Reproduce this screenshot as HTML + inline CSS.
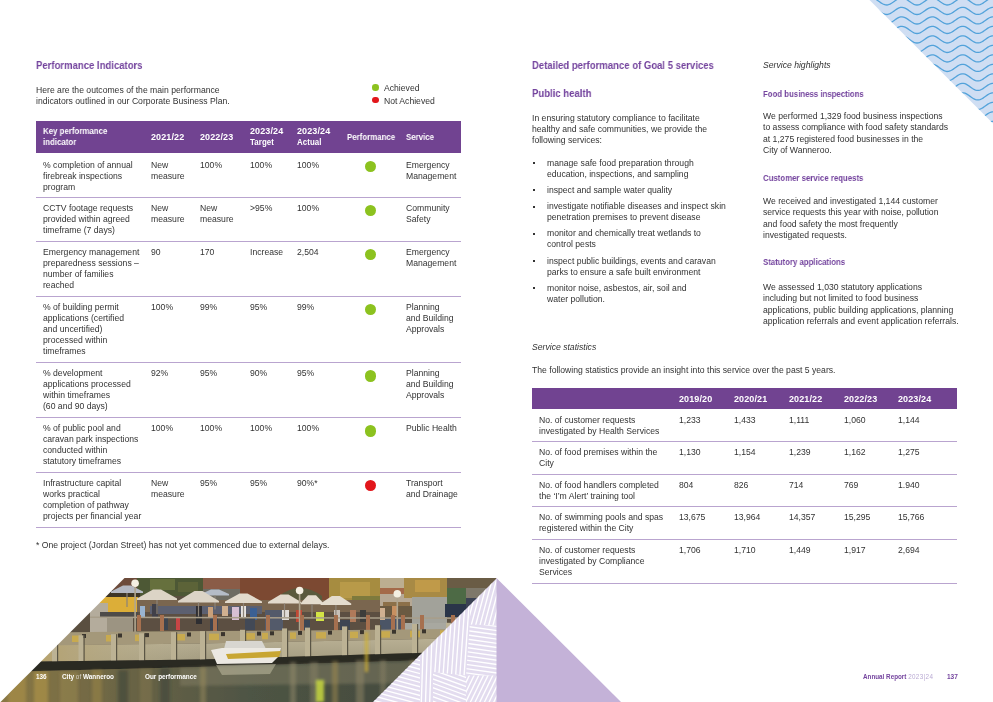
<!DOCTYPE html>
<html><head><meta charset="utf-8">
<style>
html,body{margin:0;padding:0;}
body{width:993px;height:702px;position:relative;overflow:hidden;background:#fff;font-family:"Liberation Sans", sans-serif;}
.t{position:absolute;white-space:nowrap;will-change:transform;}
.t sup{font-size:60%;vertical-align:top;line-height:0;position:relative;top:1px}
.dot{position:absolute;border-radius:50%;}
.box{position:absolute;}
.abs{position:absolute;}
</style></head><body>
<svg class="abs" style="left:0;top:0" width="993" height="702" viewBox="0 0 993 702"><defs><clipPath id="wc"><polygon points="869.5,0 993,0 993,123.5"/></clipPath></defs><g clip-path="url(#wc)"><rect x="860" y="0" width="140" height="130" fill="#cfdef3"/><polyline points="860.0,-5.55 861.5,-6.45 863.0,-7.51 864.5,-8.62 866.0,-9.68 867.5,-10.59 869.0,-11.27 870.5,-11.64 872.0,-11.67 873.5,-11.37 875.0,-10.75 876.5,-9.88 878.0,-8.84 879.5,-7.73 881.0,-6.65 882.5,-5.72 884.0,-5.01 885.5,-4.59 887.0,-4.51 888.5,-4.77 890.0,-5.35 891.5,-6.19 893.0,-7.22 894.5,-8.32 896.0,-9.41 897.5,-10.37 899.0,-11.11 900.5,-11.57 902.0,-11.70 903.5,-11.48 905.0,-10.94 906.5,-10.13 908.0,-9.13 909.5,-8.03 911.0,-6.93 912.5,-5.95 914.0,-5.17 915.5,-4.67 917.0,-4.50 918.5,-4.67 920.0,-5.17 921.5,-5.95 923.0,-6.93 924.5,-8.03 926.0,-9.13 927.5,-10.13 929.0,-10.94 930.5,-11.48 932.0,-11.70 933.5,-11.57 935.0,-11.11 936.5,-10.37 938.0,-9.41 939.5,-8.32 941.0,-7.22 942.5,-6.19 944.0,-5.35 945.5,-4.77 947.0,-4.51 948.5,-4.59 950.0,-5.01 951.5,-5.72 953.0,-6.65 954.5,-7.73 956.0,-8.84 957.5,-9.88 959.0,-10.75 960.5,-11.37 962.0,-11.67 963.5,-11.64 965.0,-11.27 966.5,-10.59 968.0,-9.68 969.5,-8.62 971.0,-7.51 972.5,-6.45 974.0,-5.55 975.5,-4.90 977.0,-4.55 978.5,-4.54 980.0,-4.87 981.5,-5.50 983.0,-6.39 984.5,-7.43 986.0,-8.55 987.5,-9.61 989.0,-10.54 990.5,-11.23 992.0,-11.62 993.5,-11.68 995.0,-11.40 996.5,-10.80 998.0,-9.94 999.5,-8.91" fill="none" stroke="#52a2da" stroke-width="1.3"/><polyline points="860.0,3.95 861.5,3.05 863.0,1.99 864.5,0.88 866.0,-0.18 867.5,-1.09 869.0,-1.77 870.5,-2.14 872.0,-2.17 873.5,-1.87 875.0,-1.25 876.5,-0.38 878.0,0.66 879.5,1.77 881.0,2.85 882.5,3.78 884.0,4.49 885.5,4.91 887.0,4.99 888.5,4.73 890.0,4.15 891.5,3.31 893.0,2.28 894.5,1.18 896.0,0.09 897.5,-0.87 899.0,-1.61 900.5,-2.07 902.0,-2.20 903.5,-1.98 905.0,-1.44 906.5,-0.63 908.0,0.37 909.5,1.47 911.0,2.57 912.5,3.55 914.0,4.33 915.5,4.83 917.0,5.00 918.5,4.83 920.0,4.33 921.5,3.55 923.0,2.57 924.5,1.47 926.0,0.37 927.5,-0.63 929.0,-1.44 930.5,-1.98 932.0,-2.20 933.5,-2.07 935.0,-1.61 936.5,-0.87 938.0,0.09 939.5,1.18 941.0,2.28 942.5,3.31 944.0,4.15 945.5,4.73 947.0,4.99 948.5,4.91 950.0,4.49 951.5,3.78 953.0,2.85 954.5,1.77 956.0,0.66 957.5,-0.38 959.0,-1.25 960.5,-1.87 962.0,-2.17 963.5,-2.14 965.0,-1.77 966.5,-1.09 968.0,-0.18 969.5,0.88 971.0,1.99 972.5,3.05 974.0,3.95 975.5,4.60 977.0,4.95 978.5,4.96 980.0,4.63 981.5,4.00 983.0,3.11 984.5,2.07 986.0,0.95 987.5,-0.11 989.0,-1.04 990.5,-1.73 992.0,-2.12 993.5,-2.18 995.0,-1.90 996.5,-1.30 998.0,-0.44 999.5,0.59" fill="none" stroke="#52a2da" stroke-width="1.3"/><polyline points="860.0,13.45 861.5,12.55 863.0,11.49 864.5,10.38 866.0,9.32 867.5,8.41 869.0,7.73 870.5,7.36 872.0,7.33 873.5,7.63 875.0,8.25 876.5,9.12 878.0,10.16 879.5,11.27 881.0,12.35 882.5,13.28 884.0,13.99 885.5,14.41 887.0,14.49 888.5,14.23 890.0,13.65 891.5,12.81 893.0,11.78 894.5,10.68 896.0,9.59 897.5,8.63 899.0,7.89 900.5,7.43 902.0,7.30 903.5,7.52 905.0,8.06 906.5,8.87 908.0,9.87 909.5,10.97 911.0,12.07 912.5,13.05 914.0,13.83 915.5,14.33 917.0,14.50 918.5,14.33 920.0,13.83 921.5,13.05 923.0,12.07 924.5,10.97 926.0,9.87 927.5,8.87 929.0,8.06 930.5,7.52 932.0,7.30 933.5,7.43 935.0,7.89 936.5,8.63 938.0,9.59 939.5,10.68 941.0,11.78 942.5,12.81 944.0,13.65 945.5,14.23 947.0,14.49 948.5,14.41 950.0,13.99 951.5,13.28 953.0,12.35 954.5,11.27 956.0,10.16 957.5,9.12 959.0,8.25 960.5,7.63 962.0,7.33 963.5,7.36 965.0,7.73 966.5,8.41 968.0,9.32 969.5,10.38 971.0,11.49 972.5,12.55 974.0,13.45 975.5,14.10 977.0,14.45 978.5,14.46 980.0,14.13 981.5,13.50 983.0,12.61 984.5,11.57 986.0,10.45 987.5,9.39 989.0,8.46 990.5,7.77 992.0,7.38 993.5,7.32 995.0,7.60 996.5,8.20 998.0,9.06 999.5,10.09" fill="none" stroke="#52a2da" stroke-width="1.3"/><polyline points="860.0,22.95 861.5,22.05 863.0,20.99 864.5,19.88 866.0,18.82 867.5,17.91 869.0,17.23 870.5,16.86 872.0,16.83 873.5,17.13 875.0,17.75 876.5,18.62 878.0,19.66 879.5,20.77 881.0,21.85 882.5,22.78 884.0,23.49 885.5,23.91 887.0,23.99 888.5,23.73 890.0,23.15 891.5,22.31 893.0,21.28 894.5,20.18 896.0,19.09 897.5,18.13 899.0,17.39 900.5,16.93 902.0,16.80 903.5,17.02 905.0,17.56 906.5,18.37 908.0,19.37 909.5,20.47 911.0,21.57 912.5,22.55 914.0,23.33 915.5,23.83 917.0,24.00 918.5,23.83 920.0,23.33 921.5,22.55 923.0,21.57 924.5,20.47 926.0,19.37 927.5,18.37 929.0,17.56 930.5,17.02 932.0,16.80 933.5,16.93 935.0,17.39 936.5,18.13 938.0,19.09 939.5,20.18 941.0,21.28 942.5,22.31 944.0,23.15 945.5,23.73 947.0,23.99 948.5,23.91 950.0,23.49 951.5,22.78 953.0,21.85 954.5,20.77 956.0,19.66 957.5,18.62 959.0,17.75 960.5,17.13 962.0,16.83 963.5,16.86 965.0,17.23 966.5,17.91 968.0,18.82 969.5,19.88 971.0,20.99 972.5,22.05 974.0,22.95 975.5,23.60 977.0,23.95 978.5,23.96 980.0,23.63 981.5,23.00 983.0,22.11 984.5,21.07 986.0,19.95 987.5,18.89 989.0,17.96 990.5,17.27 992.0,16.88 993.5,16.82 995.0,17.10 996.5,17.70 998.0,18.56 999.5,19.59" fill="none" stroke="#52a2da" stroke-width="1.3"/><polyline points="860.0,32.45 861.5,31.55 863.0,30.49 864.5,29.38 866.0,28.32 867.5,27.41 869.0,26.73 870.5,26.36 872.0,26.33 873.5,26.63 875.0,27.25 876.5,28.12 878.0,29.16 879.5,30.27 881.0,31.35 882.5,32.28 884.0,32.99 885.5,33.41 887.0,33.49 888.5,33.23 890.0,32.65 891.5,31.81 893.0,30.78 894.5,29.68 896.0,28.59 897.5,27.63 899.0,26.89 900.5,26.43 902.0,26.30 903.5,26.52 905.0,27.06 906.5,27.87 908.0,28.87 909.5,29.97 911.0,31.07 912.5,32.05 914.0,32.83 915.5,33.33 917.0,33.50 918.5,33.33 920.0,32.83 921.5,32.05 923.0,31.07 924.5,29.97 926.0,28.87 927.5,27.87 929.0,27.06 930.5,26.52 932.0,26.30 933.5,26.43 935.0,26.89 936.5,27.63 938.0,28.59 939.5,29.68 941.0,30.78 942.5,31.81 944.0,32.65 945.5,33.23 947.0,33.49 948.5,33.41 950.0,32.99 951.5,32.28 953.0,31.35 954.5,30.27 956.0,29.16 957.5,28.12 959.0,27.25 960.5,26.63 962.0,26.33 963.5,26.36 965.0,26.73 966.5,27.41 968.0,28.32 969.5,29.38 971.0,30.49 972.5,31.55 974.0,32.45 975.5,33.10 977.0,33.45 978.5,33.46 980.0,33.13 981.5,32.50 983.0,31.61 984.5,30.57 986.0,29.45 987.5,28.39 989.0,27.46 990.5,26.77 992.0,26.38 993.5,26.32 995.0,26.60 996.5,27.20 998.0,28.06 999.5,29.09" fill="none" stroke="#52a2da" stroke-width="1.3"/><polyline points="860.0,41.95 861.5,41.05 863.0,39.99 864.5,38.88 866.0,37.82 867.5,36.91 869.0,36.23 870.5,35.86 872.0,35.83 873.5,36.13 875.0,36.75 876.5,37.62 878.0,38.66 879.5,39.77 881.0,40.85 882.5,41.78 884.0,42.49 885.5,42.91 887.0,42.99 888.5,42.73 890.0,42.15 891.5,41.31 893.0,40.28 894.5,39.18 896.0,38.09 897.5,37.13 899.0,36.39 900.5,35.93 902.0,35.80 903.5,36.02 905.0,36.56 906.5,37.37 908.0,38.37 909.5,39.47 911.0,40.57 912.5,41.55 914.0,42.33 915.5,42.83 917.0,43.00 918.5,42.83 920.0,42.33 921.5,41.55 923.0,40.57 924.5,39.47 926.0,38.37 927.5,37.37 929.0,36.56 930.5,36.02 932.0,35.80 933.5,35.93 935.0,36.39 936.5,37.13 938.0,38.09 939.5,39.18 941.0,40.28 942.5,41.31 944.0,42.15 945.5,42.73 947.0,42.99 948.5,42.91 950.0,42.49 951.5,41.78 953.0,40.85 954.5,39.77 956.0,38.66 957.5,37.62 959.0,36.75 960.5,36.13 962.0,35.83 963.5,35.86 965.0,36.23 966.5,36.91 968.0,37.82 969.5,38.88 971.0,39.99 972.5,41.05 974.0,41.95 975.5,42.60 977.0,42.95 978.5,42.96 980.0,42.63 981.5,42.00 983.0,41.11 984.5,40.07 986.0,38.95 987.5,37.89 989.0,36.96 990.5,36.27 992.0,35.88 993.5,35.82 995.0,36.10 996.5,36.70 998.0,37.56 999.5,38.59" fill="none" stroke="#52a2da" stroke-width="1.3"/><polyline points="860.0,51.45 861.5,50.55 863.0,49.49 864.5,48.38 866.0,47.32 867.5,46.41 869.0,45.73 870.5,45.36 872.0,45.33 873.5,45.63 875.0,46.25 876.5,47.12 878.0,48.16 879.5,49.27 881.0,50.35 882.5,51.28 884.0,51.99 885.5,52.41 887.0,52.49 888.5,52.23 890.0,51.65 891.5,50.81 893.0,49.78 894.5,48.68 896.0,47.59 897.5,46.63 899.0,45.89 900.5,45.43 902.0,45.30 903.5,45.52 905.0,46.06 906.5,46.87 908.0,47.87 909.5,48.97 911.0,50.07 912.5,51.05 914.0,51.83 915.5,52.33 917.0,52.50 918.5,52.33 920.0,51.83 921.5,51.05 923.0,50.07 924.5,48.97 926.0,47.87 927.5,46.87 929.0,46.06 930.5,45.52 932.0,45.30 933.5,45.43 935.0,45.89 936.5,46.63 938.0,47.59 939.5,48.68 941.0,49.78 942.5,50.81 944.0,51.65 945.5,52.23 947.0,52.49 948.5,52.41 950.0,51.99 951.5,51.28 953.0,50.35 954.5,49.27 956.0,48.16 957.5,47.12 959.0,46.25 960.5,45.63 962.0,45.33 963.5,45.36 965.0,45.73 966.5,46.41 968.0,47.32 969.5,48.38 971.0,49.49 972.5,50.55 974.0,51.45 975.5,52.10 977.0,52.45 978.5,52.46 980.0,52.13 981.5,51.50 983.0,50.61 984.5,49.57 986.0,48.45 987.5,47.39 989.0,46.46 990.5,45.77 992.0,45.38 993.5,45.32 995.0,45.60 996.5,46.20 998.0,47.06 999.5,48.09" fill="none" stroke="#52a2da" stroke-width="1.3"/><polyline points="860.0,60.95 861.5,60.05 863.0,58.99 864.5,57.88 866.0,56.82 867.5,55.91 869.0,55.23 870.5,54.86 872.0,54.83 873.5,55.13 875.0,55.75 876.5,56.62 878.0,57.66 879.5,58.77 881.0,59.85 882.5,60.78 884.0,61.49 885.5,61.91 887.0,61.99 888.5,61.73 890.0,61.15 891.5,60.31 893.0,59.28 894.5,58.18 896.0,57.09 897.5,56.13 899.0,55.39 900.5,54.93 902.0,54.80 903.5,55.02 905.0,55.56 906.5,56.37 908.0,57.37 909.5,58.47 911.0,59.57 912.5,60.55 914.0,61.33 915.5,61.83 917.0,62.00 918.5,61.83 920.0,61.33 921.5,60.55 923.0,59.57 924.5,58.47 926.0,57.37 927.5,56.37 929.0,55.56 930.5,55.02 932.0,54.80 933.5,54.93 935.0,55.39 936.5,56.13 938.0,57.09 939.5,58.18 941.0,59.28 942.5,60.31 944.0,61.15 945.5,61.73 947.0,61.99 948.5,61.91 950.0,61.49 951.5,60.78 953.0,59.85 954.5,58.77 956.0,57.66 957.5,56.62 959.0,55.75 960.5,55.13 962.0,54.83 963.5,54.86 965.0,55.23 966.5,55.91 968.0,56.82 969.5,57.88 971.0,58.99 972.5,60.05 974.0,60.95 975.5,61.60 977.0,61.95 978.5,61.96 980.0,61.63 981.5,61.00 983.0,60.11 984.5,59.07 986.0,57.95 987.5,56.89 989.0,55.96 990.5,55.27 992.0,54.88 993.5,54.82 995.0,55.10 996.5,55.70 998.0,56.56 999.5,57.59" fill="none" stroke="#52a2da" stroke-width="1.3"/><polyline points="860.0,70.45 861.5,69.55 863.0,68.49 864.5,67.38 866.0,66.32 867.5,65.41 869.0,64.73 870.5,64.36 872.0,64.33 873.5,64.63 875.0,65.25 876.5,66.12 878.0,67.16 879.5,68.27 881.0,69.35 882.5,70.28 884.0,70.99 885.5,71.41 887.0,71.49 888.5,71.23 890.0,70.65 891.5,69.81 893.0,68.78 894.5,67.68 896.0,66.59 897.5,65.63 899.0,64.89 900.5,64.43 902.0,64.30 903.5,64.52 905.0,65.06 906.5,65.87 908.0,66.87 909.5,67.97 911.0,69.07 912.5,70.05 914.0,70.83 915.5,71.33 917.0,71.50 918.5,71.33 920.0,70.83 921.5,70.05 923.0,69.07 924.5,67.97 926.0,66.87 927.5,65.87 929.0,65.06 930.5,64.52 932.0,64.30 933.5,64.43 935.0,64.89 936.5,65.63 938.0,66.59 939.5,67.68 941.0,68.78 942.5,69.81 944.0,70.65 945.5,71.23 947.0,71.49 948.5,71.41 950.0,70.99 951.5,70.28 953.0,69.35 954.5,68.27 956.0,67.16 957.5,66.12 959.0,65.25 960.5,64.63 962.0,64.33 963.5,64.36 965.0,64.73 966.5,65.41 968.0,66.32 969.5,67.38 971.0,68.49 972.5,69.55 974.0,70.45 975.5,71.10 977.0,71.45 978.5,71.46 980.0,71.13 981.5,70.50 983.0,69.61 984.5,68.57 986.0,67.45 987.5,66.39 989.0,65.46 990.5,64.77 992.0,64.38 993.5,64.32 995.0,64.60 996.5,65.20 998.0,66.06 999.5,67.09" fill="none" stroke="#52a2da" stroke-width="1.3"/><polyline points="860.0,79.95 861.5,79.05 863.0,77.99 864.5,76.88 866.0,75.82 867.5,74.91 869.0,74.23 870.5,73.86 872.0,73.83 873.5,74.13 875.0,74.75 876.5,75.62 878.0,76.66 879.5,77.77 881.0,78.85 882.5,79.78 884.0,80.49 885.5,80.91 887.0,80.99 888.5,80.73 890.0,80.15 891.5,79.31 893.0,78.28 894.5,77.18 896.0,76.09 897.5,75.13 899.0,74.39 900.5,73.93 902.0,73.80 903.5,74.02 905.0,74.56 906.5,75.37 908.0,76.37 909.5,77.47 911.0,78.57 912.5,79.55 914.0,80.33 915.5,80.83 917.0,81.00 918.5,80.83 920.0,80.33 921.5,79.55 923.0,78.57 924.5,77.47 926.0,76.37 927.5,75.37 929.0,74.56 930.5,74.02 932.0,73.80 933.5,73.93 935.0,74.39 936.5,75.13 938.0,76.09 939.5,77.18 941.0,78.28 942.5,79.31 944.0,80.15 945.5,80.73 947.0,80.99 948.5,80.91 950.0,80.49 951.5,79.78 953.0,78.85 954.5,77.77 956.0,76.66 957.5,75.62 959.0,74.75 960.5,74.13 962.0,73.83 963.5,73.86 965.0,74.23 966.5,74.91 968.0,75.82 969.5,76.88 971.0,77.99 972.5,79.05 974.0,79.95 975.5,80.60 977.0,80.95 978.5,80.96 980.0,80.63 981.5,80.00 983.0,79.11 984.5,78.07 986.0,76.95 987.5,75.89 989.0,74.96 990.5,74.27 992.0,73.88 993.5,73.82 995.0,74.10 996.5,74.70 998.0,75.56 999.5,76.59" fill="none" stroke="#52a2da" stroke-width="1.3"/><polyline points="860.0,89.45 861.5,88.55 863.0,87.49 864.5,86.38 866.0,85.32 867.5,84.41 869.0,83.73 870.5,83.36 872.0,83.33 873.5,83.63 875.0,84.25 876.5,85.12 878.0,86.16 879.5,87.27 881.0,88.35 882.5,89.28 884.0,89.99 885.5,90.41 887.0,90.49 888.5,90.23 890.0,89.65 891.5,88.81 893.0,87.78 894.5,86.68 896.0,85.59 897.5,84.63 899.0,83.89 900.5,83.43 902.0,83.30 903.5,83.52 905.0,84.06 906.5,84.87 908.0,85.87 909.5,86.97 911.0,88.07 912.5,89.05 914.0,89.83 915.5,90.33 917.0,90.50 918.5,90.33 920.0,89.83 921.5,89.05 923.0,88.07 924.5,86.97 926.0,85.87 927.5,84.87 929.0,84.06 930.5,83.52 932.0,83.30 933.5,83.43 935.0,83.89 936.5,84.63 938.0,85.59 939.5,86.68 941.0,87.78 942.5,88.81 944.0,89.65 945.5,90.23 947.0,90.49 948.5,90.41 950.0,89.99 951.5,89.28 953.0,88.35 954.5,87.27 956.0,86.16 957.5,85.12 959.0,84.25 960.5,83.63 962.0,83.33 963.5,83.36 965.0,83.73 966.5,84.41 968.0,85.32 969.5,86.38 971.0,87.49 972.5,88.55 974.0,89.45 975.5,90.10 977.0,90.45 978.5,90.46 980.0,90.13 981.5,89.50 983.0,88.61 984.5,87.57 986.0,86.45 987.5,85.39 989.0,84.46 990.5,83.77 992.0,83.38 993.5,83.32 995.0,83.60 996.5,84.20 998.0,85.06 999.5,86.09" fill="none" stroke="#52a2da" stroke-width="1.3"/><polyline points="860.0,98.95 861.5,98.05 863.0,96.99 864.5,95.88 866.0,94.82 867.5,93.91 869.0,93.23 870.5,92.86 872.0,92.83 873.5,93.13 875.0,93.75 876.5,94.62 878.0,95.66 879.5,96.77 881.0,97.85 882.5,98.78 884.0,99.49 885.5,99.91 887.0,99.99 888.5,99.73 890.0,99.15 891.5,98.31 893.0,97.28 894.5,96.18 896.0,95.09 897.5,94.13 899.0,93.39 900.5,92.93 902.0,92.80 903.5,93.02 905.0,93.56 906.5,94.37 908.0,95.37 909.5,96.47 911.0,97.57 912.5,98.55 914.0,99.33 915.5,99.83 917.0,100.00 918.5,99.83 920.0,99.33 921.5,98.55 923.0,97.57 924.5,96.47 926.0,95.37 927.5,94.37 929.0,93.56 930.5,93.02 932.0,92.80 933.5,92.93 935.0,93.39 936.5,94.13 938.0,95.09 939.5,96.18 941.0,97.28 942.5,98.31 944.0,99.15 945.5,99.73 947.0,99.99 948.5,99.91 950.0,99.49 951.5,98.78 953.0,97.85 954.5,96.77 956.0,95.66 957.5,94.62 959.0,93.75 960.5,93.13 962.0,92.83 963.5,92.86 965.0,93.23 966.5,93.91 968.0,94.82 969.5,95.88 971.0,96.99 972.5,98.05 974.0,98.95 975.5,99.60 977.0,99.95 978.5,99.96 980.0,99.63 981.5,99.00 983.0,98.11 984.5,97.07 986.0,95.95 987.5,94.89 989.0,93.96 990.5,93.27 992.0,92.88 993.5,92.82 995.0,93.10 996.5,93.70 998.0,94.56 999.5,95.59" fill="none" stroke="#52a2da" stroke-width="1.3"/><polyline points="860.0,108.45 861.5,107.55 863.0,106.49 864.5,105.38 866.0,104.32 867.5,103.41 869.0,102.73 870.5,102.36 872.0,102.33 873.5,102.63 875.0,103.25 876.5,104.12 878.0,105.16 879.5,106.27 881.0,107.35 882.5,108.28 884.0,108.99 885.5,109.41 887.0,109.49 888.5,109.23 890.0,108.65 891.5,107.81 893.0,106.78 894.5,105.68 896.0,104.59 897.5,103.63 899.0,102.89 900.5,102.43 902.0,102.30 903.5,102.52 905.0,103.06 906.5,103.87 908.0,104.87 909.5,105.97 911.0,107.07 912.5,108.05 914.0,108.83 915.5,109.33 917.0,109.50 918.5,109.33 920.0,108.83 921.5,108.05 923.0,107.07 924.5,105.97 926.0,104.87 927.5,103.87 929.0,103.06 930.5,102.52 932.0,102.30 933.5,102.43 935.0,102.89 936.5,103.63 938.0,104.59 939.5,105.68 941.0,106.78 942.5,107.81 944.0,108.65 945.5,109.23 947.0,109.49 948.5,109.41 950.0,108.99 951.5,108.28 953.0,107.35 954.5,106.27 956.0,105.16 957.5,104.12 959.0,103.25 960.5,102.63 962.0,102.33 963.5,102.36 965.0,102.73 966.5,103.41 968.0,104.32 969.5,105.38 971.0,106.49 972.5,107.55 974.0,108.45 975.5,109.10 977.0,109.45 978.5,109.46 980.0,109.13 981.5,108.50 983.0,107.61 984.5,106.57 986.0,105.45 987.5,104.39 989.0,103.46 990.5,102.77 992.0,102.38 993.5,102.32 995.0,102.60 996.5,103.20 998.0,104.06 999.5,105.09" fill="none" stroke="#52a2da" stroke-width="1.3"/><polyline points="860.0,117.95 861.5,117.05 863.0,115.99 864.5,114.88 866.0,113.82 867.5,112.91 869.0,112.23 870.5,111.86 872.0,111.83 873.5,112.13 875.0,112.75 876.5,113.62 878.0,114.66 879.5,115.77 881.0,116.85 882.5,117.78 884.0,118.49 885.5,118.91 887.0,118.99 888.5,118.73 890.0,118.15 891.5,117.31 893.0,116.28 894.5,115.18 896.0,114.09 897.5,113.13 899.0,112.39 900.5,111.93 902.0,111.80 903.5,112.02 905.0,112.56 906.5,113.37 908.0,114.37 909.5,115.47 911.0,116.57 912.5,117.55 914.0,118.33 915.5,118.83 917.0,119.00 918.5,118.83 920.0,118.33 921.5,117.55 923.0,116.57 924.5,115.47 926.0,114.37 927.5,113.37 929.0,112.56 930.5,112.02 932.0,111.80 933.5,111.93 935.0,112.39 936.5,113.13 938.0,114.09 939.5,115.18 941.0,116.28 942.5,117.31 944.0,118.15 945.5,118.73 947.0,118.99 948.5,118.91 950.0,118.49 951.5,117.78 953.0,116.85 954.5,115.77 956.0,114.66 957.5,113.62 959.0,112.75 960.5,112.13 962.0,111.83 963.5,111.86 965.0,112.23 966.5,112.91 968.0,113.82 969.5,114.88 971.0,115.99 972.5,117.05 974.0,117.95 975.5,118.60 977.0,118.95 978.5,118.96 980.0,118.63 981.5,118.00 983.0,117.11 984.5,116.07 986.0,114.95 987.5,113.89 989.0,112.96 990.5,112.27 992.0,111.88 993.5,111.82 995.0,112.10 996.5,112.70 998.0,113.56 999.5,114.59" fill="none" stroke="#52a2da" stroke-width="1.3"/><polyline points="860.0,127.45 861.5,126.55 863.0,125.49 864.5,124.38 866.0,123.32 867.5,122.41 869.0,121.73 870.5,121.36 872.0,121.33 873.5,121.63 875.0,122.25 876.5,123.12 878.0,124.16 879.5,125.27 881.0,126.35 882.5,127.28 884.0,127.99 885.5,128.41 887.0,128.49 888.5,128.23 890.0,127.65 891.5,126.81 893.0,125.78 894.5,124.68 896.0,123.59 897.5,122.63 899.0,121.89 900.5,121.43 902.0,121.30 903.5,121.52 905.0,122.06 906.5,122.87 908.0,123.87 909.5,124.97 911.0,126.07 912.5,127.05 914.0,127.83 915.5,128.33 917.0,128.50 918.5,128.33 920.0,127.83 921.5,127.05 923.0,126.07 924.5,124.97 926.0,123.87 927.5,122.87 929.0,122.06 930.5,121.52 932.0,121.30 933.5,121.43 935.0,121.89 936.5,122.63 938.0,123.59 939.5,124.68 941.0,125.78 942.5,126.81 944.0,127.65 945.5,128.23 947.0,128.49 948.5,128.41 950.0,127.99 951.5,127.28 953.0,126.35 954.5,125.27 956.0,124.16 957.5,123.12 959.0,122.25 960.5,121.63 962.0,121.33 963.5,121.36 965.0,121.73 966.5,122.41 968.0,123.32 969.5,124.38 971.0,125.49 972.5,126.55 974.0,127.45 975.5,128.10 977.0,128.45 978.5,128.46 980.0,128.13 981.5,127.50 983.0,126.61 984.5,125.57 986.0,124.45 987.5,123.39 989.0,122.46 990.5,121.77 992.0,121.38 993.5,121.32 995.0,121.60 996.5,122.20 998.0,123.06 999.5,124.09" fill="none" stroke="#52a2da" stroke-width="1.3"/><polyline points="860.0,136.95 861.5,136.05 863.0,134.99 864.5,133.88 866.0,132.82 867.5,131.91 869.0,131.23 870.5,130.86 872.0,130.83 873.5,131.13 875.0,131.75 876.5,132.62 878.0,133.66 879.5,134.77 881.0,135.85 882.5,136.78 884.0,137.49 885.5,137.91 887.0,137.99 888.5,137.73 890.0,137.15 891.5,136.31 893.0,135.28 894.5,134.18 896.0,133.09 897.5,132.13 899.0,131.39 900.5,130.93 902.0,130.80 903.5,131.02 905.0,131.56 906.5,132.37 908.0,133.37 909.5,134.47 911.0,135.57 912.5,136.55 914.0,137.33 915.5,137.83 917.0,138.00 918.5,137.83 920.0,137.33 921.5,136.55 923.0,135.57 924.5,134.47 926.0,133.37 927.5,132.37 929.0,131.56 930.5,131.02 932.0,130.80 933.5,130.93 935.0,131.39 936.5,132.13 938.0,133.09 939.5,134.18 941.0,135.28 942.5,136.31 944.0,137.15 945.5,137.73 947.0,137.99 948.5,137.91 950.0,137.49 951.5,136.78 953.0,135.85 954.5,134.77 956.0,133.66 957.5,132.62 959.0,131.75 960.5,131.13 962.0,130.83 963.5,130.86 965.0,131.23 966.5,131.91 968.0,132.82 969.5,133.88 971.0,134.99 972.5,136.05 974.0,136.95 975.5,137.60 977.0,137.95 978.5,137.96 980.0,137.63 981.5,137.00 983.0,136.11 984.5,135.07 986.0,133.95 987.5,132.89 989.0,131.96 990.5,131.27 992.0,130.88 993.5,130.82 995.0,131.10 996.5,131.70 998.0,132.56 999.5,133.59" fill="none" stroke="#52a2da" stroke-width="1.3"/></g></svg><svg class="abs" style="left:0;top:0" width="993" height="702" viewBox="0 0 993 702"><defs><clipPath id="pc"><polygon points="124.5,578 497,578 497,702 0.5,702"/></clipPath><clipPath id="lc"><polygon points="497,578 497,702 373,702"/></clipPath><linearGradient id="wall" x1="0" y1="0" x2="0" y2="1"><stop offset="0" stop-color="#b9b094"/><stop offset="1" stop-color="#a39b80"/></linearGradient><linearGradient id="wallL" x1="0" y1="0" x2="1" y2="0"><stop offset="0" stop-color="#c0a458"/><stop offset="0.3" stop-color="#b4a478"/><stop offset="1" stop-color="#bfb79a" stop-opacity="0"/></linearGradient><linearGradient id="waterH" x1="0" y1="0" x2="1" y2="0"><stop offset="0" stop-color="#8a7844"/><stop offset="0.25" stop-color="#6a6444"/><stop offset="0.5" stop-color="#4e5444"/><stop offset="1" stop-color="#3e463a"/></linearGradient><filter id="bl" x="-2%" y="-10%" width="104%" height="120%"><feGaussianBlur stdDeviation="0.7"/></filter><filter id="bl2" x="-2%" y="-10%" width="104%" height="120%"><feGaussianBlur stdDeviation="1.4"/></filter></defs><g clip-path="url(#pc)"><g filter="url(#bl)"><rect x="0" y="575" width="500" height="130" fill="#5a5040"/><rect x="95" y="575" width="42" height="15" fill="#6c4c3a"/><rect x="137" y="575" width="66" height="21" fill="#4e5834"/><rect x="150" y="579" width="25" height="11" fill="#66703e"/><rect x="178" y="582" width="20" height="10" fill="#5c6438"/><rect x="203" y="575" width="47" height="14" fill="#8a5c46"/><rect x="203" y="589" width="47" height="11" fill="#6e6c64"/><rect x="240" y="575" width="90" height="38" fill="#7c4a32"/><path d="M279,613 L279,596 Q300,580 322,596 L322,613 Z" fill="#5a5a3c"/><rect x="329" y="575" width="56" height="32" fill="#a68c40"/><rect x="340" y="582" width="30" height="16" fill="#b89a48"/><rect x="352" y="596" width="28" height="11" fill="#7e7a3e"/><rect x="380" y="575" width="25" height="13" fill="#bcae90"/><rect x="380" y="588" width="33" height="6" fill="#a46a4a"/><rect x="380" y="594" width="33" height="22" fill="#b6a894"/><rect x="383" y="602" width="27" height="13" fill="#8c7048"/><rect x="404" y="575" width="44" height="23" fill="#a88a44"/><rect x="415" y="580" width="25" height="12" fill="#c09a4a"/><rect x="447" y="575" width="50" height="14" fill="#6a5c44"/><rect x="447" y="588" width="19" height="17" fill="#4e6a44"/><rect x="466" y="588" width="31" height="16" fill="#7e786a"/><rect x="412" y="597" width="35" height="27" fill="#a2a29a"/><rect x="445" y="604" width="25" height="13" fill="#2a3648"/><rect x="466" y="598" width="16" height="11" fill="#3a4252"/><rect x="100" y="590" width="40" height="7" fill="#3e3428"/><rect x="98" y="597" width="40" height="15" fill="#dcae38"/><rect x="137" y="600" width="243" height="31" fill="#5c5042"/><rect x="137" y="600" width="243" height="12" fill="#7a6650"/><rect x="150" y="606" width="112" height="8" fill="#5c6070"/><rect x="265" y="610" width="18" height="20" fill="#525a6a"/><rect x="380" y="606" width="32" height="12" fill="#6a5a42"/><rect x="380" y="618" width="25" height="12" fill="#4c5466"/><rect x="404" y="623" width="51" height="7" fill="#a8a8a0"/><rect x="90" y="603" width="18" height="29" fill="#b4ac9c"/><rect x="107" y="617" width="26" height="15" fill="#9c9482"/><rect x="100" y="612" width="38" height="5" fill="#4e4c48"/><rect x="140" y="606" width="5" height="12" fill="#9ab4d0"/><rect x="152" y="604" width="6" height="14" fill="#404048"/><rect x="176" y="617" width="4" height="13" fill="#c84444"/><rect x="196" y="606" width="6" height="18" fill="#2e2e30"/><rect x="208" y="607" width="5" height="10" fill="#c8a07a"/><rect x="222" y="606" width="6" height="10" fill="#d0b090"/><rect x="232" y="607" width="7" height="13" fill="#d8c0d4"/><rect x="241" y="606" width="5" height="12" fill="#e8e4e0"/><rect x="250" y="608" width="7" height="12" fill="#3a6094"/><rect x="282" y="610" width="7" height="10" fill="#e0dcd8"/><rect x="296" y="610" width="6" height="12" fill="#c04a34"/><rect x="316" y="612" width="8" height="9" fill="#d4e444"/><rect x="334" y="610" width="6" height="12" fill="#c8c0b8"/><rect x="350" y="610" width="6" height="12" fill="#b07a5a"/><rect x="360" y="610" width="6" height="12" fill="#3c3c3a"/><rect x="380" y="608" width="5" height="12" fill="#d0b090"/><rect x="392" y="606" width="6" height="10" fill="#c89060"/><rect x="160" y="618" width="8" height="12" fill="#3c4450"/><rect x="210" y="618" width="8" height="12" fill="#3a4250"/><rect x="245" y="618" width="10" height="12" fill="#424a56"/><rect x="300" y="620" width="10" height="10" fill="#3e4654"/><rect x="340" y="620" width="10" height="10" fill="#3c4452"/><polygon points="123.0,585.5 131.0,585.5 143.0,591.5 143.0,593.0 111.0,593.0 111.0,591.5" fill="#b4b8c2"/><rect x="126.4" y="593" width="1.1999999999999886" height="14" fill="#8c8478"/><polygon points="211.0,589.5 219.0,589.5 229.0,594.0 229.0,595.5 201.0,595.5 201.0,594.0" fill="#b4bcc8"/><rect x="214.4" y="595.5" width="1.1999999999999886" height="14.0" fill="#8c8478"/><polygon points="153.0,589.5 161.0,589.5 177.0,598.5 177.0,600.0 137.0,600.0 137.0,598.5" fill="#dcd4c6"/><rect x="156.4" y="600" width="1.1999999999999886" height="14" fill="#8c8478"/><polygon points="194.5,591.0 202.5,591.0 219.0,601.0 219.0,602.5 178.0,602.5 178.0,601.0" fill="#dcd4c6"/><rect x="197.9" y="602.5" width="1.1999999999999886" height="14.0" fill="#8c8478"/><polygon points="239.5,593.5 247.5,593.5 262.0,601.5 262.0,603.0 225.0,603.0 225.0,601.5" fill="#e2dacc"/><rect x="242.9" y="603" width="1.1999999999999886" height="14" fill="#8c8478"/><polygon points="280.5,594.5 288.5,594.5 301.0,602.0 301.0,603.5 268.0,603.5 268.0,602.0" fill="#e2dacc"/><rect x="283.9" y="603.5" width="1.2000000000000455" height="14.0" fill="#8c8478"/><polygon points="308.0,595.3 316.0,595.3 323.0,602.7 323.0,604.2 301.0,604.2 301.0,602.7" fill="#e4dcce"/><rect x="311.4" y="604.2" width="1.2000000000000455" height="14.0" fill="#8c8478"/><polygon points="331.9,596.0 339.9,596.0 351.2,603.5 351.2,605.0 320.6,605.0 320.6,603.5" fill="#e4dcce"/><rect x="335.29999999999995" y="605" width="1.2000000000000455" height="14" fill="#8c8478"/><rect x="134.3" y="586.2" width="1.6" height="48.8" fill="#b0a690"/><circle cx="135.1" cy="583.2" r="3.8" fill="#f4efe2"/><rect x="298.8" y="593.5" width="1.6" height="41.5" fill="#b0a690"/><circle cx="299.6" cy="590.5" r="3.8" fill="#f4efe2"/><rect x="396.5" y="596.7" width="1.6" height="38.3" fill="#b0a690"/><circle cx="397.3" cy="593.7" r="3.8" fill="#f4efe2"/><polygon points="90,616.5 500,617.5 500,619 90,618" fill="#a89e8a"/><rect x="137" y="615" width="4" height="16" fill="#a67050"/><rect x="160" y="615" width="4" height="16" fill="#a67050"/><rect x="213" y="615" width="4" height="16" fill="#a67050"/><rect x="266" y="615" width="4" height="16" fill="#a67050"/><rect x="300" y="615" width="4" height="16" fill="#a67050"/><rect x="334" y="615" width="4" height="16" fill="#a67050"/><rect x="366" y="615" width="4" height="16" fill="#a67050"/><rect x="391" y="615" width="4" height="16" fill="#a67050"/><rect x="401" y="615" width="4" height="16" fill="#a67050"/><rect x="420" y="615" width="4" height="16" fill="#a67050"/><rect x="451" y="615" width="4" height="16" fill="#a67050"/><polygon points="0.0,633.0 137.0,631.5 300.0,630.5 500.0,628.5 500.0,637.5 200.0,643.5 0.0,646.0" fill="#a4987a"/><rect x="72" y="635.5" width="8" height="6.5" fill="#c8aa50"/><rect x="82" y="634.0" width="4" height="4.0" fill="#3a362e"/><rect x="106" y="635.0" width="10" height="6.5" fill="#c8aa50"/><rect x="118" y="633.5" width="4" height="4.0" fill="#3a362e"/><rect x="135" y="634.6" width="8" height="6.5" fill="#c8aa50"/><rect x="145" y="633.1" width="4" height="4.0" fill="#3a362e"/><rect x="177" y="634.0" width="8" height="6.5" fill="#c8aa50"/><rect x="187" y="632.5" width="4" height="4.0" fill="#3a362e"/><rect x="209" y="633.6" width="10" height="6.5" fill="#c8aa50"/><rect x="221" y="632.1" width="4" height="4.0" fill="#3a362e"/><rect x="245" y="633.1" width="10" height="6.5" fill="#c8aa50"/><rect x="257" y="631.6" width="4" height="4.0" fill="#3a362e"/><rect x="262" y="632.8" width="6" height="6.5" fill="#c8aa50"/><rect x="270" y="631.3" width="4" height="4.0" fill="#3a362e"/><rect x="290" y="632.4" width="6" height="6.5" fill="#c8aa50"/><rect x="298" y="630.9" width="4" height="4.0" fill="#3a362e"/><rect x="316" y="632.1" width="10" height="6.5" fill="#c8aa50"/><rect x="328" y="630.6" width="4" height="4.0" fill="#3a362e"/><rect x="350" y="631.6" width="8" height="6.5" fill="#c8aa50"/><rect x="360" y="630.1" width="4" height="4.0" fill="#3a362e"/><rect x="380" y="631.2" width="10" height="6.5" fill="#c8aa50"/><rect x="392" y="629.7" width="4" height="4.0" fill="#3a362e"/><rect x="410" y="630.8" width="10" height="6.5" fill="#c8aa50"/><rect x="422" y="629.3" width="4" height="4.0" fill="#3a362e"/><rect x="440" y="630.3" width="6" height="6.5" fill="#c8aa50"/><rect x="448" y="628.8" width="4" height="4.0" fill="#3a362e"/><rect x="470" y="629.9" width="6" height="6.5" fill="#c8aa50"/><rect x="478" y="628.4" width="4" height="4.0" fill="#3a362e"/><polygon points="0.0,646.0 200.0,643.5 500.0,637.5 500.0,650.5 200.0,659.6 0.0,662.0" fill="url(#wall)"/><polygon points="0.0,646.0 200.0,643.5 200.0,659.6 0.0,662.0" fill="url(#wallL)"/><rect x="52" y="636.2" width="5" height="30.0" fill="#bcb294"/><rect x="57" y="636.2" width="1.2000000000000028" height="30.0" fill="#5a5444"/><rect x="78.5" y="635.3" width="5.0" height="30.0" fill="#bcb294"/><rect x="83.5" y="635.3" width="1.2000000000000028" height="30.0" fill="#5a5444"/><rect x="111" y="634.2" width="5" height="30.0" fill="#bcb294"/><rect x="116" y="634.2" width="1.2000000000000028" height="30.0" fill="#5a5444"/><rect x="139" y="633.3" width="5" height="30.0" fill="#bcb294"/><rect x="144" y="633.3" width="1.1999999999999886" height="30.0" fill="#5a5444"/><rect x="171" y="632.2" width="5" height="30.0" fill="#bcb294"/><rect x="176" y="632.2" width="1.1999999999999886" height="30.0" fill="#5a5444"/><rect x="200" y="631.2" width="5" height="30.0" fill="#bcb294"/><rect x="205" y="631.2" width="1.1999999999999886" height="30.0" fill="#5a5444"/><rect x="240" y="629.8" width="5" height="30.0" fill="#bcb294"/><rect x="245" y="629.8" width="1.1999999999999886" height="30.0" fill="#5a5444"/><rect x="282" y="628.4" width="5" height="30.0" fill="#bcb294"/><rect x="287" y="628.4" width="1.1999999999999886" height="30.0" fill="#5a5444"/><rect x="305" y="627.6" width="5" height="30.0" fill="#bcb294"/><rect x="310" y="627.6" width="1.1999999999999886" height="30.0" fill="#5a5444"/><rect x="342" y="626.4" width="5" height="30.0" fill="#bcb294"/><rect x="347" y="626.4" width="1.1999999999999886" height="30.0" fill="#5a5444"/><rect x="375" y="625.2" width="5" height="30.0" fill="#bcb294"/><rect x="380" y="625.2" width="1.1999999999999886" height="30.0" fill="#5a5444"/><rect x="412" y="624.0" width="5" height="30.0" fill="#bcb294"/><rect x="417" y="624.0" width="1.1999999999999886" height="30.0" fill="#5a5444"/><rect x="446" y="622.8" width="5" height="30.0" fill="#bcb294"/><rect x="451" y="622.8" width="1.1999999999999886" height="30.0" fill="#5a5444"/><rect x="474" y="621.9" width="5" height="30.0" fill="#bcb294"/><rect x="479" y="621.9" width="1.1999999999999886" height="30.0" fill="#5a5444"/><polygon points="0.0,662.0 200.0,659.6 500.0,650.5 500.0,658.0 200.0,667.0 0.0,672.0" fill="#2c2c24"/><polygon points="0.0,672.0 200.0,667.0 500.0,658.0 500.0,705.0 0.0,705.0" fill="url(#waterH)"/></g><g filter="url(#bl2)"><polygon points="180.0,668.0 500.0,659.0 500.0,682.0 180.0,686.0" fill="#8a8268" opacity="0.45"/><rect x="8" y="672" width="18" height="33" fill="#b09448" opacity="0.55"/><rect x="34" y="672" width="14" height="33" fill="#b89a48" opacity="0.55"/><rect x="60" y="672" width="18" height="33" fill="#9a8a50" opacity="0.5"/><rect x="92" y="670" width="10" height="35" fill="#a08a48" opacity="0.5"/><rect x="118" y="670" width="10" height="35" fill="#2e3a36" opacity="0.45"/><rect x="140" y="669" width="12" height="36" fill="#8a7c50" opacity="0.45"/><rect x="160" y="668" width="10" height="37" fill="#2e3a36" opacity="0.4"/><rect x="200" y="667" width="6" height="38" fill="#a09060" opacity="0.45"/><rect x="290" y="662" width="6" height="43" fill="#9c9070" opacity="0.45"/><rect x="310" y="662" width="8" height="43" fill="#8c8468" opacity="0.45"/><rect x="332" y="661" width="6" height="44" fill="#a89050" opacity="0.45"/><rect x="356" y="660" width="8" height="45" fill="#9a8e6c" opacity="0.45"/><rect x="380" y="660" width="6" height="45" fill="#8c8468" opacity="0.45"/><rect x="410" y="660" width="8" height="45" fill="#a89060" opacity="0.4"/><rect x="440" y="660" width="6" height="45" fill="#8c8468" opacity="0.4"/><rect x="316" y="680" width="8" height="22" fill="#c8d840" opacity="0.85"/><rect x="365" y="632" width="3" height="40" fill="#d0b030" opacity="0.8"/></g><g filter="url(#bl)"><polygon points="226.0,641.0 262.0,641.0 266.0,649.0 224.0,649.0" fill="#d8d6d0"/><polygon points="211.0,650.0 222.0,648.0 281.0,648.0 278.0,657.0 272.0,663.0 217.0,664.0" fill="#ece9e2"/><polygon points="226.0,654.0 281.0,651.0 279.0,657.0 228.0,659.0" fill="#c8a630"/><polygon points="216.0,665.0 276.0,664.0 270.0,674.0 222.0,675.0" fill="#c8c4a8" opacity="0.5"/></g></g><g clip-path="url(#lc)"><rect x="370" y="575" width="130" height="130" fill="#e3dcef"/><defs><clipPath id="pp0"><polygon points="469.8,570.0 505.0,570.0 505.0,625.7 469.8,624.4"/></clipPath><clipPath id="pp1"><polygon points="469.8,624.4 505.0,625.7 505.0,675.6 466.0,675.6"/></clipPath><clipPath id="pp2"><polygon points="433.0,600.0 469.8,600.0 469.8,624.4 466.0,675.6 433.0,672.0"/></clipPath><clipPath id="pp3"><polygon points="433.0,672.0 466.0,675.6 466.0,705.0 433.0,705.0"/></clipPath><clipPath id="pp4"><polygon points="466.0,675.6 505.0,675.6 505.0,705.0 466.0,705.0"/></clipPath><clipPath id="pp5"><polygon points="420.0,640.0 433.0,640.0 433.0,705.0 420.0,705.0"/></clipPath><clipPath id="pp6"><polygon points="370.0,655.0 420.0,655.0 420.0,705.0 370.0,705.0"/></clipPath></defs><g stroke="#ffffff" stroke-width="1.35" fill="none"><g clip-path="url(#pp0)"><line x1="417.7" y1="630.6" x2="443.5" y2="534.0"/><line x1="421.7" y1="631.7" x2="447.6" y2="535.1"/><line x1="425.8" y1="632.8" x2="451.7" y2="536.2"/><line x1="429.8" y1="633.9" x2="455.7" y2="537.3"/><line x1="433.9" y1="635.0" x2="459.8" y2="538.4"/><line x1="437.9" y1="636.0" x2="463.8" y2="539.4"/><line x1="442.0" y1="637.1" x2="467.9" y2="540.5"/><line x1="446.1" y1="638.2" x2="471.9" y2="541.6"/><line x1="450.1" y1="639.3" x2="476.0" y2="542.7"/><line x1="454.2" y1="640.4" x2="480.1" y2="543.8"/><line x1="458.2" y1="641.5" x2="484.1" y2="544.9"/><line x1="462.3" y1="642.6" x2="488.2" y2="546.0"/><line x1="466.3" y1="643.6" x2="492.2" y2="547.1"/><line x1="470.4" y1="644.7" x2="496.3" y2="548.1"/><line x1="474.5" y1="645.8" x2="500.3" y2="549.2"/><line x1="478.5" y1="646.9" x2="504.4" y2="550.3"/><line x1="482.6" y1="648.0" x2="508.5" y2="551.4"/><line x1="486.6" y1="649.1" x2="512.5" y2="552.5"/><line x1="490.7" y1="650.2" x2="516.6" y2="553.6"/><line x1="494.7" y1="651.3" x2="520.6" y2="554.7"/><line x1="498.8" y1="652.3" x2="524.7" y2="555.8"/><line x1="502.9" y1="653.4" x2="528.7" y2="556.8"/><line x1="506.9" y1="654.5" x2="532.8" y2="557.9"/><line x1="511.0" y1="655.6" x2="536.9" y2="559.0"/><line x1="515.0" y1="656.7" x2="540.9" y2="560.1"/><line x1="519.1" y1="657.8" x2="545.0" y2="561.2"/><line x1="523.1" y1="658.9" x2="549.0" y2="562.3"/><line x1="527.2" y1="660.0" x2="553.1" y2="563.4"/><line x1="531.3" y1="661.0" x2="557.1" y2="564.4"/></g><g clip-path="url(#pp1)"><line x1="445.1" y1="585.1" x2="544.1" y2="599.1"/><line x1="444.5" y1="589.3" x2="543.6" y2="603.2"/><line x1="444.0" y1="593.5" x2="543.0" y2="607.4"/><line x1="443.4" y1="597.6" x2="542.4" y2="611.5"/><line x1="442.8" y1="601.8" x2="541.8" y2="615.7"/><line x1="442.2" y1="605.9" x2="541.2" y2="619.9"/><line x1="441.6" y1="610.1" x2="540.6" y2="624.0"/><line x1="441.0" y1="614.3" x2="540.1" y2="628.2"/><line x1="440.4" y1="618.4" x2="539.5" y2="632.3"/><line x1="439.9" y1="622.6" x2="538.9" y2="636.5"/><line x1="439.3" y1="626.7" x2="538.3" y2="640.6"/><line x1="438.7" y1="630.9" x2="537.7" y2="644.8"/><line x1="438.1" y1="635.0" x2="537.1" y2="649.0"/><line x1="437.5" y1="639.2" x2="536.5" y2="653.1"/><line x1="436.9" y1="643.4" x2="536.0" y2="657.3"/><line x1="436.4" y1="647.5" x2="535.4" y2="661.4"/><line x1="435.8" y1="651.7" x2="534.8" y2="665.6"/><line x1="435.2" y1="655.8" x2="534.2" y2="669.8"/><line x1="434.6" y1="660.0" x2="533.6" y2="673.9"/><line x1="434.0" y1="664.2" x2="533.0" y2="678.1"/><line x1="433.4" y1="668.3" x2="532.5" y2="682.2"/><line x1="432.8" y1="672.5" x2="531.9" y2="686.4"/><line x1="432.3" y1="676.6" x2="531.3" y2="690.6"/><line x1="431.7" y1="680.8" x2="530.7" y2="694.7"/><line x1="431.1" y1="685.0" x2="530.1" y2="698.9"/><line x1="430.5" y1="689.1" x2="529.5" y2="703.0"/><line x1="429.9" y1="693.3" x2="528.9" y2="707.2"/><line x1="429.3" y1="697.4" x2="528.4" y2="711.4"/><line x1="428.8" y1="701.6" x2="527.8" y2="715.5"/></g><g clip-path="url(#pp2)"><line x1="392.2" y1="680.2" x2="399.2" y2="580.4"/><line x1="396.4" y1="680.5" x2="403.3" y2="580.7"/><line x1="400.6" y1="680.8" x2="407.5" y2="581.0"/><line x1="404.7" y1="681.1" x2="411.7" y2="581.3"/><line x1="408.9" y1="681.3" x2="415.9" y2="581.6"/><line x1="413.1" y1="681.6" x2="420.1" y2="581.9"/><line x1="417.3" y1="681.9" x2="424.3" y2="582.2"/><line x1="421.5" y1="682.2" x2="428.5" y2="582.5"/><line x1="425.7" y1="682.5" x2="432.7" y2="582.8"/><line x1="429.9" y1="682.8" x2="436.9" y2="583.1"/><line x1="434.1" y1="683.1" x2="441.0" y2="583.3"/><line x1="438.3" y1="683.4" x2="445.2" y2="583.6"/><line x1="442.5" y1="683.7" x2="449.4" y2="583.9"/><line x1="446.6" y1="684.0" x2="453.6" y2="584.2"/><line x1="450.8" y1="684.3" x2="457.8" y2="584.5"/><line x1="455.0" y1="684.6" x2="462.0" y2="584.8"/><line x1="459.2" y1="684.9" x2="466.2" y2="585.1"/><line x1="463.4" y1="685.2" x2="470.4" y2="585.4"/><line x1="467.6" y1="685.5" x2="474.6" y2="585.7"/><line x1="471.8" y1="685.7" x2="478.8" y2="586.0"/><line x1="476.0" y1="686.0" x2="482.9" y2="586.3"/><line x1="480.2" y1="686.3" x2="487.1" y2="586.6"/><line x1="484.4" y1="686.6" x2="491.3" y2="586.9"/><line x1="488.5" y1="686.9" x2="495.5" y2="587.2"/><line x1="492.7" y1="687.2" x2="499.7" y2="587.5"/><line x1="496.9" y1="687.5" x2="503.9" y2="587.7"/><line x1="501.1" y1="687.8" x2="508.1" y2="588.0"/><line x1="505.3" y1="688.1" x2="512.3" y2="588.3"/><line x1="509.5" y1="688.4" x2="516.5" y2="588.6"/></g><g clip-path="url(#pp3)"><line x1="422.6" y1="617.0" x2="516.6" y2="651.2"/><line x1="421.2" y1="621.0" x2="515.2" y2="655.2"/><line x1="419.8" y1="624.9" x2="513.7" y2="659.1"/><line x1="418.3" y1="628.9" x2="512.3" y2="663.1"/><line x1="416.9" y1="632.8" x2="510.8" y2="667.0"/><line x1="415.4" y1="636.8" x2="509.4" y2="671.0"/><line x1="414.0" y1="640.7" x2="508.0" y2="674.9"/><line x1="412.6" y1="644.7" x2="506.5" y2="678.9"/><line x1="411.1" y1="648.6" x2="505.1" y2="682.8"/><line x1="409.7" y1="652.6" x2="503.7" y2="686.8"/><line x1="408.3" y1="656.5" x2="502.2" y2="690.7"/><line x1="406.8" y1="660.5" x2="500.8" y2="694.7"/><line x1="405.4" y1="664.4" x2="499.4" y2="698.6"/><line x1="404.0" y1="668.4" x2="497.9" y2="702.6"/><line x1="402.5" y1="672.3" x2="496.5" y2="706.5"/><line x1="401.1" y1="676.2" x2="495.0" y2="710.4"/><line x1="399.6" y1="680.2" x2="493.6" y2="714.4"/><line x1="398.2" y1="684.1" x2="492.2" y2="718.3"/><line x1="396.8" y1="688.1" x2="490.7" y2="722.3"/><line x1="395.3" y1="692.0" x2="489.3" y2="726.2"/><line x1="393.9" y1="696.0" x2="487.9" y2="730.2"/><line x1="392.5" y1="699.9" x2="486.4" y2="734.1"/><line x1="391.0" y1="703.9" x2="485.0" y2="738.1"/><line x1="389.6" y1="707.8" x2="483.6" y2="742.0"/><line x1="388.2" y1="711.8" x2="482.1" y2="746.0"/><line x1="386.7" y1="715.7" x2="480.7" y2="749.9"/><line x1="385.3" y1="719.7" x2="479.2" y2="753.9"/><line x1="383.8" y1="723.6" x2="477.8" y2="757.8"/><line x1="382.4" y1="727.6" x2="476.4" y2="761.8"/></g><g clip-path="url(#pp4)"><line x1="410.7" y1="709.5" x2="454.6" y2="619.6"/><line x1="414.5" y1="711.3" x2="458.3" y2="621.4"/><line x1="418.3" y1="713.1" x2="462.1" y2="623.3"/><line x1="422.1" y1="715.0" x2="465.9" y2="625.1"/><line x1="425.8" y1="716.8" x2="469.7" y2="626.9"/><line x1="429.6" y1="718.7" x2="473.4" y2="628.8"/><line x1="433.4" y1="720.5" x2="477.2" y2="630.6"/><line x1="437.2" y1="722.4" x2="481.0" y2="632.5"/><line x1="440.9" y1="724.2" x2="484.8" y2="634.3"/><line x1="444.7" y1="726.0" x2="488.5" y2="636.2"/><line x1="448.5" y1="727.9" x2="492.3" y2="638.0"/><line x1="452.3" y1="729.7" x2="496.1" y2="639.8"/><line x1="456.0" y1="731.6" x2="499.9" y2="641.7"/><line x1="459.8" y1="733.4" x2="503.6" y2="643.5"/><line x1="463.6" y1="735.2" x2="507.4" y2="645.4"/><line x1="467.4" y1="737.1" x2="511.2" y2="647.2"/><line x1="471.1" y1="738.9" x2="515.0" y2="649.0"/><line x1="474.9" y1="740.8" x2="518.7" y2="650.9"/><line x1="478.7" y1="742.6" x2="522.5" y2="652.7"/><line x1="482.5" y1="744.4" x2="526.3" y2="654.6"/><line x1="486.2" y1="746.3" x2="530.1" y2="656.4"/><line x1="490.0" y1="748.1" x2="533.8" y2="658.2"/><line x1="493.8" y1="750.0" x2="537.6" y2="660.1"/><line x1="497.6" y1="751.8" x2="541.4" y2="661.9"/><line x1="501.3" y1="753.7" x2="545.2" y2="663.8"/><line x1="505.1" y1="755.5" x2="548.9" y2="665.6"/><line x1="508.9" y1="757.3" x2="552.7" y2="667.5"/><line x1="512.7" y1="759.2" x2="556.5" y2="669.3"/><line x1="516.4" y1="761.0" x2="560.3" y2="671.1"/></g><g clip-path="url(#pp5)"><line x1="366.0" y1="720.4" x2="369.5" y2="620.5"/><line x1="370.2" y1="720.6" x2="373.7" y2="620.6"/><line x1="374.4" y1="720.7" x2="377.9" y2="620.8"/><line x1="378.6" y1="720.9" x2="382.1" y2="620.9"/><line x1="382.8" y1="721.0" x2="386.3" y2="621.1"/><line x1="387.0" y1="721.2" x2="390.5" y2="621.2"/><line x1="391.2" y1="721.3" x2="394.7" y2="621.4"/><line x1="395.4" y1="721.4" x2="398.9" y2="621.5"/><line x1="399.6" y1="721.6" x2="403.1" y2="621.7"/><line x1="403.8" y1="721.7" x2="407.3" y2="621.8"/><line x1="408.0" y1="721.9" x2="411.5" y2="621.9"/><line x1="412.2" y1="722.0" x2="415.7" y2="622.1"/><line x1="416.4" y1="722.2" x2="419.9" y2="622.2"/><line x1="420.6" y1="722.3" x2="424.0" y2="622.4"/><line x1="424.8" y1="722.5" x2="428.2" y2="622.5"/><line x1="429.0" y1="722.6" x2="432.4" y2="622.7"/><line x1="433.1" y1="722.8" x2="436.6" y2="622.8"/><line x1="437.3" y1="722.9" x2="440.8" y2="623.0"/><line x1="441.5" y1="723.1" x2="445.0" y2="623.1"/><line x1="445.7" y1="723.2" x2="449.2" y2="623.3"/><line x1="449.9" y1="723.3" x2="453.4" y2="623.4"/><line x1="454.1" y1="723.5" x2="457.6" y2="623.6"/><line x1="458.3" y1="723.6" x2="461.8" y2="623.7"/><line x1="462.5" y1="723.8" x2="466.0" y2="623.8"/><line x1="466.7" y1="723.9" x2="470.2" y2="624.0"/><line x1="470.9" y1="724.1" x2="474.4" y2="624.1"/><line x1="475.1" y1="724.2" x2="478.6" y2="624.3"/><line x1="479.3" y1="724.4" x2="482.8" y2="624.4"/><line x1="483.5" y1="724.5" x2="487.0" y2="624.6"/></g><g clip-path="url(#pp6)"><line x1="361.9" y1="610.3" x2="458.5" y2="636.1"/><line x1="360.8" y1="614.3" x2="457.4" y2="640.2"/><line x1="359.7" y1="618.4" x2="456.3" y2="644.3"/><line x1="358.7" y1="622.4" x2="455.3" y2="648.3"/><line x1="357.6" y1="626.5" x2="454.2" y2="652.4"/><line x1="356.5" y1="630.5" x2="453.1" y2="656.4"/><line x1="355.4" y1="634.6" x2="452.0" y2="660.5"/><line x1="354.3" y1="638.7" x2="450.9" y2="664.5"/><line x1="353.2" y1="642.7" x2="449.8" y2="668.6"/><line x1="352.1" y1="646.8" x2="448.7" y2="672.7"/><line x1="351.1" y1="650.8" x2="447.6" y2="676.7"/><line x1="350.0" y1="654.9" x2="446.6" y2="680.8"/><line x1="348.9" y1="658.9" x2="445.5" y2="684.8"/><line x1="347.8" y1="663.0" x2="444.4" y2="688.9"/><line x1="346.7" y1="667.1" x2="443.3" y2="692.9"/><line x1="345.6" y1="671.1" x2="442.2" y2="697.0"/><line x1="344.5" y1="675.2" x2="441.1" y2="701.1"/><line x1="343.4" y1="679.2" x2="440.0" y2="705.1"/><line x1="342.4" y1="683.3" x2="438.9" y2="709.2"/><line x1="341.3" y1="687.3" x2="437.9" y2="713.2"/><line x1="340.2" y1="691.4" x2="436.8" y2="717.3"/><line x1="339.1" y1="695.5" x2="435.7" y2="721.3"/><line x1="338.0" y1="699.5" x2="434.6" y2="725.4"/><line x1="336.9" y1="703.6" x2="433.5" y2="729.5"/><line x1="335.8" y1="707.6" x2="432.4" y2="733.5"/><line x1="334.7" y1="711.7" x2="431.3" y2="737.6"/><line x1="333.7" y1="715.7" x2="430.3" y2="741.6"/><line x1="332.6" y1="719.8" x2="429.2" y2="745.7"/><line x1="331.5" y1="723.9" x2="428.1" y2="749.7"/></g></g></g><polygon points="496.5,578 621,702 496.5,702" fill="#c4b2d8"/></svg>
<div class="t" style="left:36.0px;top:58.82px;font-size:10.9px;line-height:13px;font-weight:700;color:#74449e;font-style:normal;transform:scaleX(0.876);transform-origin:0 0;">Performance Indicators</div>
<div class="t" style="left:36.0px;top:84.75px;font-size:8.65px;line-height:11.1px;font-weight:400;color:#333333;font-style:normal;">Here are the outcomes of the main performance<br>indicators outlined in our Corporate Business Plan.</div>
<div class="dot" style="left:372.3px;top:84.3px;width:6.6px;height:6.6px;background:#8cc21f"></div>
<div class="dot" style="left:372.3px;top:96.9px;width:6.6px;height:6.6px;background:#e2161b"></div>
<div class="t" style="left:384.2px;top:83.25px;font-size:8.65px;line-height:11.1px;font-weight:400;color:#333333;font-style:normal;">Achieved</div>
<div class="t" style="left:384.2px;top:95.85px;font-size:8.65px;line-height:11.1px;font-weight:400;color:#333333;font-style:normal;">Not Achieved</div>
<div class="box" style="left:35.5px;top:121.2px;width:425.7px;height:31.9px;background:#714391"></div>
<div class="t" style="left:43.0px;top:126.13px;font-size:9.0px;line-height:11.1px;font-weight:700;color:#fff;font-style:normal;transform:scaleX(0.875);transform-origin:0 0;">Key performance<br>indicator</div>
<div class="t" style="left:150.7px;top:132.13px;font-size:9.0px;line-height:11.1px;font-weight:700;color:#fff;font-style:normal;letter-spacing:0.1px;">2021/22</div>
<div class="t" style="left:200.1px;top:132.13px;font-size:9.0px;line-height:11.1px;font-weight:700;color:#fff;font-style:normal;letter-spacing:0.1px;">2022/23</div>
<div class="t" style="left:249.7px;top:126.13px;font-size:9.0px;line-height:11.1px;font-weight:700;color:#fff;font-style:normal;letter-spacing:0.1px;">2023/24<br><span style="display:inline-block;transform:scaleX(0.875);transform-origin:0 0">Target</span></div>
<div class="t" style="left:296.8px;top:126.13px;font-size:9.0px;line-height:11.1px;font-weight:700;color:#fff;font-style:normal;letter-spacing:0.1px;">2023/24<br><span style="display:inline-block;transform:scaleX(0.875);transform-origin:0 0">Actual</span></div>
<div class="t" style="left:346.6px;top:132.13px;font-size:9.0px;line-height:11.1px;font-weight:700;color:#fff;font-style:normal;transform:scaleX(0.875);transform-origin:0 0;">Performance</div>
<div class="t" style="left:406.1px;top:132.13px;font-size:9.0px;line-height:11.1px;font-weight:700;color:#fff;font-style:normal;transform:scaleX(0.875);transform-origin:0 0;">Service</div>
<div class="t" style="left:43.0px;top:159.55px;font-size:8.65px;line-height:11.1px;font-weight:400;color:#333333;font-style:normal;">% completion of annual<br>firebreak inspections<br>program</div>
<div class="t" style="left:150.7px;top:159.55px;font-size:8.65px;line-height:11.1px;font-weight:400;color:#333333;font-style:normal;">New<br>measure</div>
<div class="t" style="left:200.1px;top:159.55px;font-size:8.65px;line-height:11.1px;font-weight:400;color:#333333;font-style:normal;">100%</div>
<div class="t" style="left:249.7px;top:159.55px;font-size:8.65px;line-height:11.1px;font-weight:400;color:#333333;font-style:normal;">100%</div>
<div class="t" style="left:296.8px;top:159.55px;font-size:8.65px;line-height:11.1px;font-weight:400;color:#333333;font-style:normal;">100%</div>
<div class="t" style="left:406.1px;top:159.55px;font-size:8.65px;line-height:11.1px;font-weight:400;color:#333333;font-style:normal;">Emergency<br>Management</div>
<div class="dot" style="left:364.8px;top:160.7px;width:11.6px;height:11.6px;background:#8cc21f"></div>
<div class="t" style="left:43.0px;top:203.35px;font-size:8.65px;line-height:11.1px;font-weight:400;color:#333333;font-style:normal;">CCTV footage requests<br>provided within agreed<br>timeframe (7 days)</div>
<div class="t" style="left:150.7px;top:203.35px;font-size:8.65px;line-height:11.1px;font-weight:400;color:#333333;font-style:normal;">New<br>measure</div>
<div class="t" style="left:200.1px;top:203.35px;font-size:8.65px;line-height:11.1px;font-weight:400;color:#333333;font-style:normal;">New<br>measure</div>
<div class="t" style="left:249.7px;top:203.35px;font-size:8.65px;line-height:11.1px;font-weight:400;color:#333333;font-style:normal;">&gt;95%</div>
<div class="t" style="left:296.8px;top:203.35px;font-size:8.65px;line-height:11.1px;font-weight:400;color:#333333;font-style:normal;">100%</div>
<div class="t" style="left:406.1px;top:203.35px;font-size:8.65px;line-height:11.1px;font-weight:400;color:#333333;font-style:normal;">Community<br>Safety</div>
<div class="dot" style="left:364.8px;top:204.9px;width:11.6px;height:11.6px;background:#8cc21f"></div>
<div class="t" style="left:43.0px;top:247.25px;font-size:8.65px;line-height:11.1px;font-weight:400;color:#333333;font-style:normal;">Emergency management<br>preparedness sessions &ndash;<br>number of families<br>reached</div>
<div class="t" style="left:150.7px;top:247.25px;font-size:8.65px;line-height:11.1px;font-weight:400;color:#333333;font-style:normal;">90</div>
<div class="t" style="left:200.1px;top:247.25px;font-size:8.65px;line-height:11.1px;font-weight:400;color:#333333;font-style:normal;">170</div>
<div class="t" style="left:249.7px;top:247.25px;font-size:8.65px;line-height:11.1px;font-weight:400;color:#333333;font-style:normal;">Increase</div>
<div class="t" style="left:296.8px;top:247.25px;font-size:8.65px;line-height:11.1px;font-weight:400;color:#333333;font-style:normal;">2,504</div>
<div class="t" style="left:406.1px;top:247.25px;font-size:8.65px;line-height:11.1px;font-weight:400;color:#333333;font-style:normal;">Emergency<br>Management</div>
<div class="dot" style="left:364.8px;top:248.8px;width:11.6px;height:11.6px;background:#8cc21f"></div>
<div class="t" style="left:43.0px;top:302.25px;font-size:8.65px;line-height:11.1px;font-weight:400;color:#333333;font-style:normal;">% of building permit<br>applications (certified<br>and uncertified)<br>processed within<br>timeframes</div>
<div class="t" style="left:150.7px;top:302.25px;font-size:8.65px;line-height:11.1px;font-weight:400;color:#333333;font-style:normal;">100%</div>
<div class="t" style="left:200.1px;top:302.25px;font-size:8.65px;line-height:11.1px;font-weight:400;color:#333333;font-style:normal;">99%</div>
<div class="t" style="left:249.7px;top:302.25px;font-size:8.65px;line-height:11.1px;font-weight:400;color:#333333;font-style:normal;">95%</div>
<div class="t" style="left:296.8px;top:302.25px;font-size:8.65px;line-height:11.1px;font-weight:400;color:#333333;font-style:normal;">99%</div>
<div class="t" style="left:406.1px;top:302.25px;font-size:8.65px;line-height:11.1px;font-weight:400;color:#333333;font-style:normal;">Planning<br>and Building<br>Approvals</div>
<div class="dot" style="left:364.8px;top:303.8px;width:11.6px;height:11.6px;background:#8cc21f"></div>
<div class="t" style="left:43.0px;top:367.65px;font-size:8.65px;line-height:11.1px;font-weight:400;color:#333333;font-style:normal;">% development<br>applications processed<br>within timeframes<br>(60 and 90 days)</div>
<div class="t" style="left:150.7px;top:367.65px;font-size:8.65px;line-height:11.1px;font-weight:400;color:#333333;font-style:normal;">92%</div>
<div class="t" style="left:200.1px;top:367.65px;font-size:8.65px;line-height:11.1px;font-weight:400;color:#333333;font-style:normal;">95%</div>
<div class="t" style="left:249.7px;top:367.65px;font-size:8.65px;line-height:11.1px;font-weight:400;color:#333333;font-style:normal;">90%</div>
<div class="t" style="left:296.8px;top:367.65px;font-size:8.65px;line-height:11.1px;font-weight:400;color:#333333;font-style:normal;">95%</div>
<div class="t" style="left:406.1px;top:367.65px;font-size:8.65px;line-height:11.1px;font-weight:400;color:#333333;font-style:normal;">Planning<br>and Building<br>Approvals</div>
<div class="dot" style="left:364.8px;top:370.1px;width:11.6px;height:11.6px;background:#8cc21f"></div>
<div class="t" style="left:43.0px;top:422.95px;font-size:8.65px;line-height:11.1px;font-weight:400;color:#333333;font-style:normal;">% of public pool and<br>caravan park inspections<br>conducted within<br>statutory timeframes</div>
<div class="t" style="left:150.7px;top:422.95px;font-size:8.65px;line-height:11.1px;font-weight:400;color:#333333;font-style:normal;">100%</div>
<div class="t" style="left:200.1px;top:422.95px;font-size:8.65px;line-height:11.1px;font-weight:400;color:#333333;font-style:normal;">100%</div>
<div class="t" style="left:249.7px;top:422.95px;font-size:8.65px;line-height:11.1px;font-weight:400;color:#333333;font-style:normal;">100%</div>
<div class="t" style="left:296.8px;top:422.95px;font-size:8.65px;line-height:11.1px;font-weight:400;color:#333333;font-style:normal;">100%</div>
<div class="t" style="left:406.1px;top:422.95px;font-size:8.65px;line-height:11.1px;font-weight:400;color:#333333;font-style:normal;">Public Health</div>
<div class="dot" style="left:364.8px;top:425.1px;width:11.6px;height:11.6px;background:#8cc21f"></div>
<div class="t" style="left:43.0px;top:478.25px;font-size:8.65px;line-height:11.1px;font-weight:400;color:#333333;font-style:normal;">Infrastructure capital<br>works practical<br>completion of pathway<br>projects per financial year</div>
<div class="t" style="left:150.7px;top:478.25px;font-size:8.65px;line-height:11.1px;font-weight:400;color:#333333;font-style:normal;">New<br>measure</div>
<div class="t" style="left:200.1px;top:478.25px;font-size:8.65px;line-height:11.1px;font-weight:400;color:#333333;font-style:normal;">95%</div>
<div class="t" style="left:249.7px;top:478.25px;font-size:8.65px;line-height:11.1px;font-weight:400;color:#333333;font-style:normal;">95%</div>
<div class="t" style="left:296.8px;top:478.25px;font-size:8.65px;line-height:11.1px;font-weight:400;color:#333333;font-style:normal;">90%*</div>
<div class="t" style="left:406.1px;top:478.25px;font-size:8.65px;line-height:11.1px;font-weight:400;color:#333333;font-style:normal;">Transport<br>and Drainage</div>
<div class="dot" style="left:364.8px;top:479.8px;width:11.6px;height:11.6px;background:#e2161b"></div>
<div class="box" style="left:35.5px;top:196.70px;width:425.7px;height:1.2px;background:#b9a4cf"></div>
<div class="box" style="left:35.5px;top:240.60px;width:425.7px;height:1.2px;background:#b9a4cf"></div>
<div class="box" style="left:35.5px;top:295.60px;width:425.7px;height:1.2px;background:#b9a4cf"></div>
<div class="box" style="left:35.5px;top:361.90px;width:425.7px;height:1.2px;background:#b9a4cf"></div>
<div class="box" style="left:35.5px;top:416.90px;width:425.7px;height:1.2px;background:#b9a4cf"></div>
<div class="box" style="left:35.5px;top:471.60px;width:425.7px;height:1.2px;background:#b9a4cf"></div>
<div class="box" style="left:35.5px;top:527.20px;width:425.7px;height:1.2px;background:#b9a4cf"></div>
<div class="t" style="left:36.0px;top:539.75px;font-size:8.65px;line-height:11.1px;font-weight:400;color:#333333;font-style:normal;">* One project (Jordan Street) has not yet commenced due to external delays.</div>
<div class="t" style="left:532.0px;top:58.92px;font-size:10.9px;line-height:13px;font-weight:700;color:#74449e;font-style:normal;transform:scaleX(0.876);transform-origin:0 0;">Detailed performance of Goal 5 services</div>
<div class="t" style="left:532.0px;top:86.58px;font-size:11.3px;line-height:13px;font-weight:700;color:#74449e;font-style:normal;transform:scaleX(0.845);transform-origin:0 0;">Public health</div>
<div class="t" style="left:532.0px;top:112.65px;font-size:8.65px;line-height:11.1px;font-weight:400;color:#333333;font-style:normal;">In ensuring statutory compliance to facilitate<br>healthy and safe communities, we provide the<br>following services:</div>
<div class="t" style="left:546.6px;top:158.15px;font-size:8.65px;line-height:11.1px;font-weight:400;color:#333333;font-style:normal;">manage safe food preparation through<br>education, inspections, and sampling</div>
<div class="box" style="left:533px;top:162px;width:2px;height:2px;background:#333333"></div>
<div class="t" style="left:546.6px;top:185.15px;font-size:8.65px;line-height:11.1px;font-weight:400;color:#333333;font-style:normal;">inspect and sample water quality</div>
<div class="box" style="left:533px;top:189px;width:2px;height:2px;background:#333333"></div>
<div class="t" style="left:546.6px;top:201.35px;font-size:8.65px;line-height:11.1px;font-weight:400;color:#333333;font-style:normal;">investigate notifiable diseases and inspect skin<br>penetration premises to prevent disease</div>
<div class="box" style="left:533px;top:206px;width:2px;height:2px;background:#333333"></div>
<div class="t" style="left:546.6px;top:228.45px;font-size:8.65px;line-height:11.1px;font-weight:400;color:#333333;font-style:normal;">monitor and chemically treat wetlands to<br>control pests</div>
<div class="box" style="left:533px;top:233px;width:2px;height:2px;background:#333333"></div>
<div class="t" style="left:546.6px;top:256.05px;font-size:8.65px;line-height:11.1px;font-weight:400;color:#333333;font-style:normal;">inspect public buildings, events and caravan<br>parks to ensure a safe built environment</div>
<div class="box" style="left:533px;top:260px;width:2px;height:2px;background:#333333"></div>
<div class="t" style="left:546.6px;top:283.05px;font-size:8.65px;line-height:11.1px;font-weight:400;color:#333333;font-style:normal;">monitor noise, asbestos, air, soil and<br>water pollution.</div>
<div class="box" style="left:533px;top:287px;width:2px;height:2px;background:#333333"></div>
<div class="t" style="left:532.0px;top:342.05px;font-size:8.65px;line-height:11.1px;font-weight:400;color:#333333;font-style:italic;">Service statistics</div>
<div class="t" style="left:532.0px;top:365.05px;font-size:8.65px;line-height:11.1px;font-weight:400;color:#333333;font-style:normal;">The following statistics provide an insight into this service over the past 5 years.</div>
<div class="box" style="left:532px;top:388.1px;width:425.4px;height:20.9px;background:#714391"></div>
<div class="t" style="left:678.6px;top:393.83px;font-size:9.0px;line-height:11.1px;font-weight:700;color:#fff;font-style:normal;letter-spacing:0.1px;">2019/20</div>
<div class="t" style="left:734.0px;top:393.83px;font-size:9.0px;line-height:11.1px;font-weight:700;color:#fff;font-style:normal;letter-spacing:0.1px;">2020/21</div>
<div class="t" style="left:788.7px;top:393.83px;font-size:9.0px;line-height:11.1px;font-weight:700;color:#fff;font-style:normal;letter-spacing:0.1px;">2021/22</div>
<div class="t" style="left:844.0px;top:393.83px;font-size:9.0px;line-height:11.1px;font-weight:700;color:#fff;font-style:normal;letter-spacing:0.1px;">2022/23</div>
<div class="t" style="left:897.6px;top:393.83px;font-size:9.0px;line-height:11.1px;font-weight:700;color:#fff;font-style:normal;letter-spacing:0.1px;">2023/24</div>
<div class="t" style="left:539.4px;top:414.50px;font-size:8.65px;line-height:11.2px;font-weight:400;color:#333333;font-style:normal;">No. of customer requests<br>investigated by Health Services</div>
<div class="t" style="left:678.6px;top:414.50px;font-size:8.65px;line-height:11.2px;font-weight:400;color:#333333;font-style:normal;">1,233</div>
<div class="t" style="left:734.0px;top:414.50px;font-size:8.65px;line-height:11.2px;font-weight:400;color:#333333;font-style:normal;">1,433</div>
<div class="t" style="left:788.7px;top:414.50px;font-size:8.65px;line-height:11.2px;font-weight:400;color:#333333;font-style:normal;">1,111</div>
<div class="t" style="left:844.0px;top:414.50px;font-size:8.65px;line-height:11.2px;font-weight:400;color:#333333;font-style:normal;">1,060</div>
<div class="t" style="left:897.6px;top:414.50px;font-size:8.65px;line-height:11.2px;font-weight:400;color:#333333;font-style:normal;">1,144</div>
<div class="t" style="left:539.4px;top:447.10px;font-size:8.65px;line-height:11.2px;font-weight:400;color:#333333;font-style:normal;">No. of food premises within the<br>City</div>
<div class="t" style="left:678.6px;top:447.10px;font-size:8.65px;line-height:11.2px;font-weight:400;color:#333333;font-style:normal;">1,130</div>
<div class="t" style="left:734.0px;top:447.10px;font-size:8.65px;line-height:11.2px;font-weight:400;color:#333333;font-style:normal;">1,154</div>
<div class="t" style="left:788.7px;top:447.10px;font-size:8.65px;line-height:11.2px;font-weight:400;color:#333333;font-style:normal;">1,239</div>
<div class="t" style="left:844.0px;top:447.10px;font-size:8.65px;line-height:11.2px;font-weight:400;color:#333333;font-style:normal;">1,162</div>
<div class="t" style="left:897.6px;top:447.10px;font-size:8.65px;line-height:11.2px;font-weight:400;color:#333333;font-style:normal;">1,275</div>
<div class="t" style="left:539.4px;top:479.80px;font-size:8.65px;line-height:11.2px;font-weight:400;color:#333333;font-style:normal;">No. of food handlers completed<br>the &lsquo;I&rsquo;m Alert&rsquo; training tool</div>
<div class="t" style="left:678.6px;top:479.80px;font-size:8.65px;line-height:11.2px;font-weight:400;color:#333333;font-style:normal;">804</div>
<div class="t" style="left:734.0px;top:479.80px;font-size:8.65px;line-height:11.2px;font-weight:400;color:#333333;font-style:normal;">826</div>
<div class="t" style="left:788.7px;top:479.80px;font-size:8.65px;line-height:11.2px;font-weight:400;color:#333333;font-style:normal;">714</div>
<div class="t" style="left:844.0px;top:479.80px;font-size:8.65px;line-height:11.2px;font-weight:400;color:#333333;font-style:normal;">769</div>
<div class="t" style="left:897.6px;top:479.80px;font-size:8.65px;line-height:11.2px;font-weight:400;color:#333333;font-style:normal;">1.940</div>
<div class="t" style="left:539.4px;top:512.10px;font-size:8.65px;line-height:11.2px;font-weight:400;color:#333333;font-style:normal;">No. of swimming pools and spas<br>registered within the City</div>
<div class="t" style="left:678.6px;top:512.10px;font-size:8.65px;line-height:11.2px;font-weight:400;color:#333333;font-style:normal;">13,675</div>
<div class="t" style="left:734.0px;top:512.10px;font-size:8.65px;line-height:11.2px;font-weight:400;color:#333333;font-style:normal;">13,964</div>
<div class="t" style="left:788.7px;top:512.10px;font-size:8.65px;line-height:11.2px;font-weight:400;color:#333333;font-style:normal;">14,357</div>
<div class="t" style="left:844.0px;top:512.10px;font-size:8.65px;line-height:11.2px;font-weight:400;color:#333333;font-style:normal;">15,295</div>
<div class="t" style="left:897.6px;top:512.10px;font-size:8.65px;line-height:11.2px;font-weight:400;color:#333333;font-style:normal;">15,766</div>
<div class="t" style="left:539.4px;top:544.70px;font-size:8.65px;line-height:11.2px;font-weight:400;color:#333333;font-style:normal;">No. of customer requests<br>investigated by Compliance<br>Services</div>
<div class="t" style="left:678.6px;top:544.70px;font-size:8.65px;line-height:11.2px;font-weight:400;color:#333333;font-style:normal;">1,706</div>
<div class="t" style="left:734.0px;top:544.70px;font-size:8.65px;line-height:11.2px;font-weight:400;color:#333333;font-style:normal;">1,710</div>
<div class="t" style="left:788.7px;top:544.70px;font-size:8.65px;line-height:11.2px;font-weight:400;color:#333333;font-style:normal;">1,449</div>
<div class="t" style="left:844.0px;top:544.70px;font-size:8.65px;line-height:11.2px;font-weight:400;color:#333333;font-style:normal;">1,917</div>
<div class="t" style="left:897.6px;top:544.70px;font-size:8.65px;line-height:11.2px;font-weight:400;color:#333333;font-style:normal;">2,694</div>
<div class="box" style="left:532px;top:441.00px;width:425.4px;height:1.2px;background:#b9a4cf"></div>
<div class="box" style="left:532px;top:473.70px;width:425.4px;height:1.2px;background:#b9a4cf"></div>
<div class="box" style="left:532px;top:506.00px;width:425.4px;height:1.2px;background:#b9a4cf"></div>
<div class="box" style="left:532px;top:538.60px;width:425.4px;height:1.2px;background:#b9a4cf"></div>
<div class="box" style="left:532px;top:582.90px;width:425.4px;height:1.2px;background:#b9a4cf"></div>
<div class="t" style="left:762.8px;top:60.45px;font-size:8.65px;line-height:11.1px;font-weight:400;color:#333333;font-style:italic;">Service highlights</div>
<div class="t" style="left:762.8px;top:87.87px;font-size:9.6px;line-height:11px;font-weight:700;color:#74449e;font-style:normal;transform:scaleX(0.815);transform-origin:0 0;">Food business inspections</div>
<div class="t" style="left:762.8px;top:110.80px;font-size:8.65px;line-height:11.4px;font-weight:400;color:#333333;font-style:normal;">We performed 1,329 food business inspections<br>to assess compliance with food safety standards<br>at 1,275 registered food businesses in the<br>City of Wanneroo.</div>
<div class="t" style="left:762.8px;top:171.67px;font-size:9.6px;line-height:11px;font-weight:700;color:#74449e;font-style:normal;transform:scaleX(0.815);transform-origin:0 0;">Customer service requests</div>
<div class="t" style="left:762.8px;top:195.55px;font-size:8.65px;line-height:11.3px;font-weight:400;color:#333333;font-style:normal;">We received and investigated 1,144 customer<br>service requests this year with noise, pollution<br>and food safety the most frequently<br>investigated requests.</div>
<div class="t" style="left:762.8px;top:256.27px;font-size:9.6px;line-height:11px;font-weight:700;color:#74449e;font-style:normal;transform:scaleX(0.815);transform-origin:0 0;">Statutory applications</div>
<div class="t" style="left:762.8px;top:281.55px;font-size:8.65px;line-height:11.3px;font-weight:400;color:#333333;font-style:normal;">We assessed 1,030 statutory applications<br>including but not limited to food business<br>applications, public building applications, planning<br>application referrals and event application referrals.</div>
<div class="t" style="left:863.1px;top:672.82px;font-size:6.3px;line-height:8px;font-weight:700;color:#74449e;font-style:normal;">Annual Report <span style="font-weight:400;color:#b9a9d3;letter-spacing:0.35px">2023|24</span></div>
<div class="t" style="left:947.4px;top:672.75px;font-size:6.5px;line-height:8px;font-weight:700;color:#74449e;font-style:normal;">137</div>
<div class="t" style="left:36.3px;top:672.6px;font-size:6.4px;line-height:8px;color:#fff;font-weight:700">136</div><div class="t" style="left:62.4px;top:672.6px;font-size:6.4px;line-height:8px;color:#fff;font-weight:700">City <span style="font-weight:400;color:#d8d4c8">of</span> Wanneroo</div><div class="t" style="left:144.7px;top:672.6px;font-size:6.4px;line-height:8px;color:#fff;font-weight:700">Our performance</div>
</body></html>
